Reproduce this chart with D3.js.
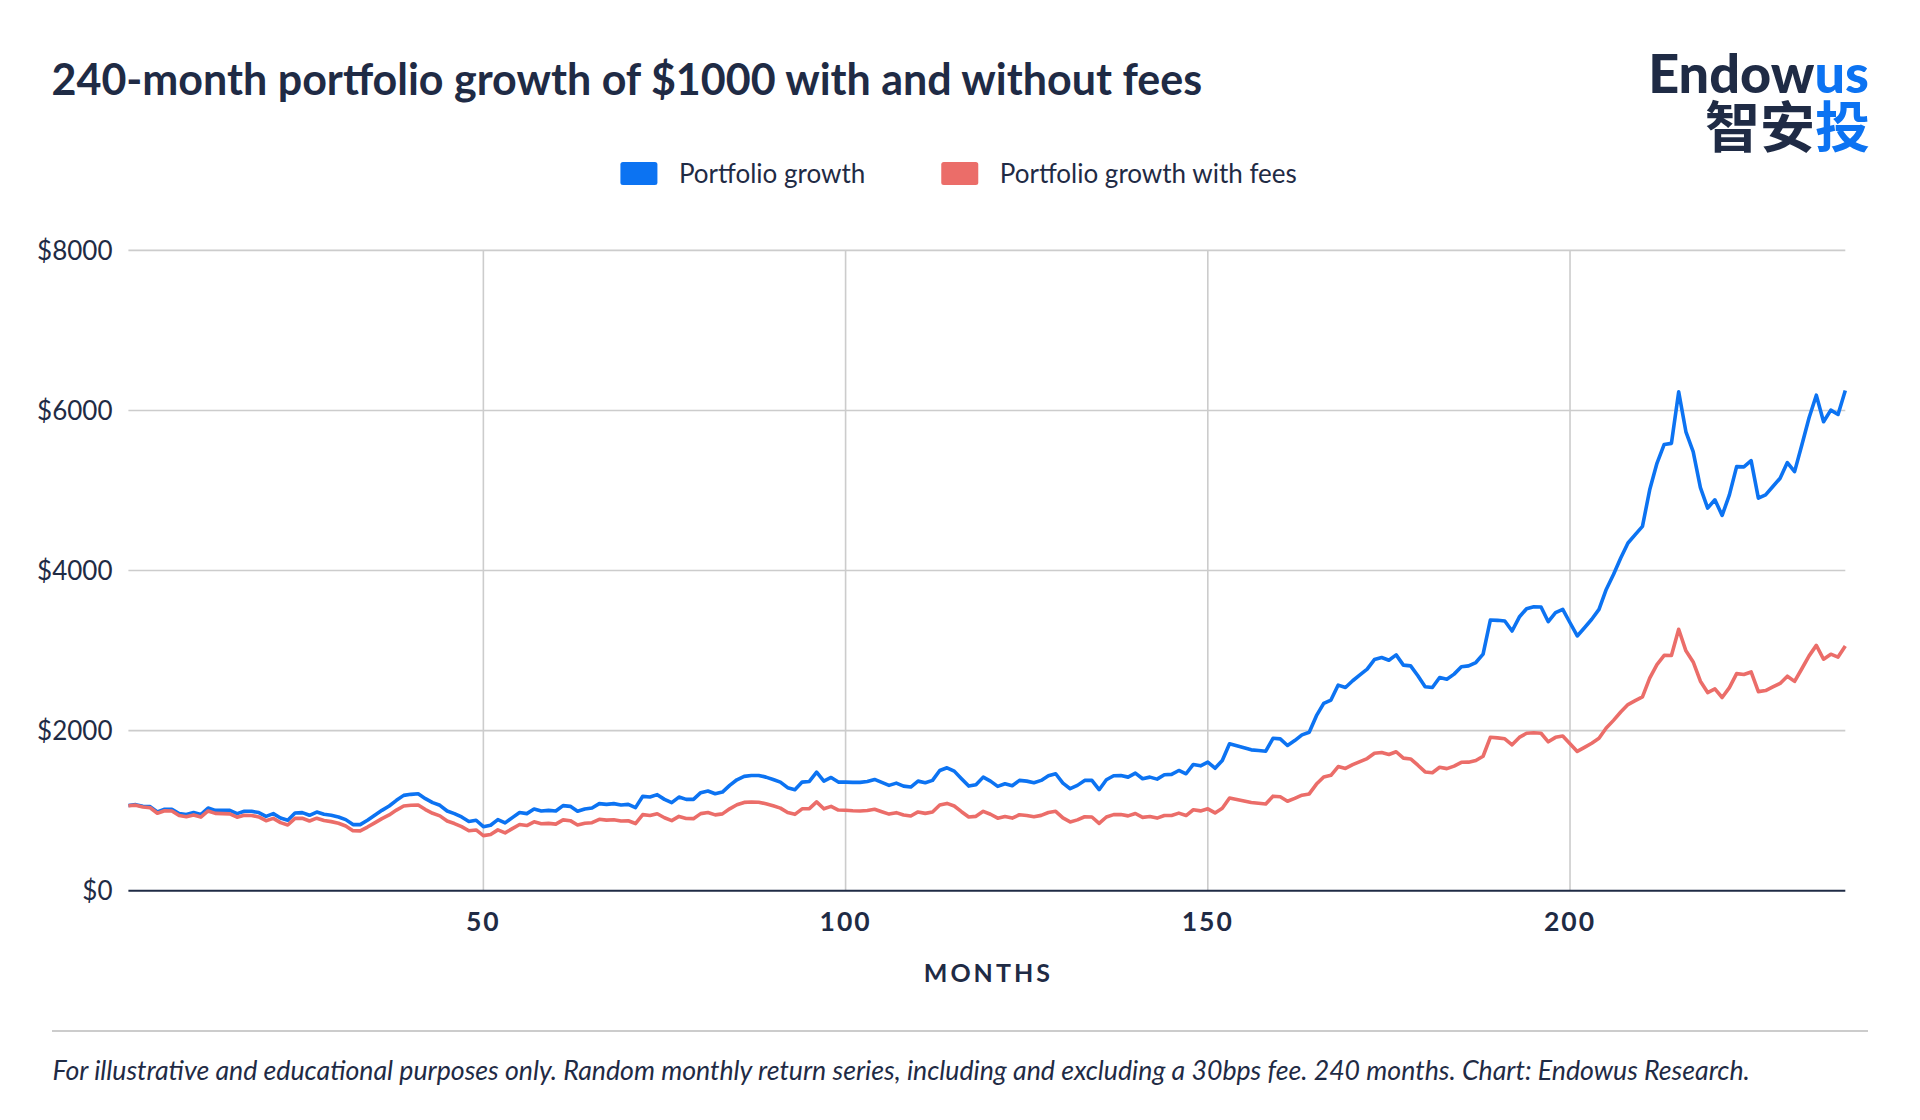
<!DOCTYPE html>
<html>
<head>
<meta charset="utf-8">
<script src="https://cdn.jsdelivr.net/npm/d3@7"></script>
<style>
    html, body { margin: 0; padding: 0; background: #ffffff; }
    svg { display: block; font-family: Lato, "Noto Sans", sans-serif; }
</style>
</head>
<body>
<svg id="chart" width="1920" height="1120"></svg>
<script>
// Values, one per month
const portfolioGrowth = [
    1065, 1075, 1055, 1050, 983, 1017, 1017, 963, 951, 976,
    951, 1033, 1004, 1004, 1004, 963, 992, 992, 976, 929,
    963, 909, 880, 971, 976, 942, 983, 955, 942, 921,
    888, 826, 826, 880, 942, 1004, 1058, 1129, 1191, 1204,
    1212, 1150, 1100, 1067, 996, 963, 921, 865, 880, 800,
    818, 888, 847, 913, 976, 963, 1021, 996, 1004, 996,
    1063, 1054, 992, 1021, 1033, 1088, 1079, 1088, 1071, 1079,
    1038, 1179, 1170, 1200, 1141, 1100, 1170, 1141, 1141, 1225,
    1245, 1212, 1232, 1316, 1386, 1428, 1440, 1440, 1419, 1390,
    1357, 1287, 1262, 1357, 1365, 1481, 1369, 1415, 1357, 1357,
    1353, 1353, 1365, 1390, 1353, 1316, 1344, 1307, 1295, 1369,
    1349, 1378, 1502, 1536, 1494, 1399, 1307, 1324, 1419, 1369,
    1303, 1336, 1312, 1378, 1369, 1349, 1378, 1436, 1461, 1344,
    1274, 1316, 1378, 1378, 1262, 1386, 1436, 1440, 1419, 1469,
    1399, 1419, 1394, 1449, 1453, 1502, 1461, 1577, 1560, 1606,
    1530, 1627, 1835, 1810, 1785, 1760, 1751, 1743, 1904, 1897,
    1814, 1876, 1947, 1979, 2187, 2340, 2382, 2569, 2539, 2623,
    2697, 2768, 2888, 2913, 2880, 2946, 2818, 2809, 2685, 2548,
    2539, 2664, 2643, 2706, 2797, 2809, 2851, 2955, 3382, 3378,
    3369, 3245, 3419, 3523, 3547, 3544, 3361, 3473, 3515, 3348,
    3183, 3286, 3391, 3515, 3764, 3951, 4157, 4344, 4449, 4552,
    5009, 5340, 5576, 5589, 6232, 5734, 5485, 5037, 4780, 4884,
    4689, 4946, 5299, 5295, 5373, 4904, 4946, 5050, 5153, 5349,
    5236, 5569, 5909, 6191, 5859, 6004, 5950, 6250
];

const portfolioGrowthWithFees = [
    1062, 1069, 1045, 1037, 968, 999, 996, 940, 925, 947,
    920, 996, 966, 963, 960, 918, 943, 940, 922, 875,
    904, 851, 821, 904, 905, 871, 906, 878, 863, 842,
    809, 750, 748, 795, 848, 901, 947, 1007, 1059, 1068,
    1071, 1014, 967, 935, 870, 839, 800, 749, 759, 688,
    702, 760, 722, 776, 827, 814, 860, 837, 841, 832,
    885, 875, 821, 842, 850, 892, 882, 887, 870, 874,
    839, 950, 940, 961, 911, 875, 928, 903, 900, 963,
    976, 947, 960, 1023, 1074, 1103, 1109, 1105, 1086, 1061,
    1032, 976, 954, 1023, 1026, 1110, 1023, 1054, 1008, 1005,
    999, 996, 1002, 1017, 987, 957, 975, 945, 933, 984,
    966, 984, 1070, 1091, 1058, 987, 920, 929, 992, 955,
    906, 926, 907, 949, 940, 924, 941, 977, 992, 909,
    859, 885, 924, 921, 841, 921, 951, 951, 935, 965,
    916, 926, 907, 940, 940, 969, 939, 1011, 997, 1023,
    972, 1031, 1159, 1140, 1120, 1101, 1092, 1084, 1181, 1173,
    1118, 1153, 1193, 1209, 1332, 1421, 1442, 1551, 1528, 1574,
    1613, 1651, 1717, 1727, 1702, 1736, 1656, 1646, 1568, 1484,
    1474, 1542, 1525, 1557, 1604, 1606, 1626, 1680, 1917, 1909,
    1898, 1823, 1915, 1967, 1974, 1967, 1860, 1916, 1933, 1836,
    1740, 1791, 1843, 1904, 2033, 2128, 2232, 2325, 2374, 2422,
    2657, 2824, 2940, 2938, 3267, 2997, 2858, 2617, 2476, 2522,
    2414, 2538, 2712, 2701, 2733, 2487, 2501, 2546, 2590, 2680,
    2615, 2773, 2934, 3065, 2892, 2955, 2919, 3058
];

const seriesNames = ["Portfolio growth", "Portfolio growth with fees"];
const seriesColors = ["#0c73f2", "#eb6d69"];
const yTicks = [0, 2000, 4000, 6000, 8000];
const xTicks = [50, 100, 150, 200];

const navy = "#1f2b45";

const svg = d3.select("#chart");

const margin = { top: 250.4, right: 74.7, bottom: 229.3, left: 128.4 };
const width = 1920 - margin.left - margin.right;
const height = 1120 - margin.top - margin.bottom;

const xScale = d3.scaleLinear()
    .domain([1, portfolioGrowth.length])
    .range([margin.left, margin.left + width]);

const yScale = d3.scaleLinear()
    .domain([0, 8000])
    .range([margin.top + height, margin.top]);

// Title
svg.append("text")
    .attr("x", 51.5)
    .attr("y", 95)
    .attr("font-size", 43)
    .attr("font-weight", 700)
    .attr("fill", navy)
    .text("240-month portfolio growth of $1000 with and without fees");

// Logo
const logo = svg.append("g").attr("text-anchor", "end");
const logoTop = logo.append("text")
    .attr("x", 1869)
    .attr("y", 92.5)
    .attr("font-size", 54)
    .attr("font-weight", 900)
    .attr("fill", navy);
logoTop.append("tspan").text("Endow");
logoTop.append("tspan").attr("fill", seriesColors[0]).text("us");

const logoBottom = logo.append("text")
    .attr("x", 1870)
    .attr("y", 146.5)
    .attr("font-size", 55)
    .attr("font-weight", 700)
    .attr("font-family", "'Noto Sans CJK SC', sans-serif")
    .attr("fill", navy);
logoBottom.append("tspan").text("智安");
logoBottom.append("tspan").attr("fill", seriesColors[0]).text("投");

// Legend
const legend = svg.append("g");
const legendItem = legend.selectAll(".legend-item")
    .data(seriesNames)
    .join("g")
    .attr("class", "legend-item");

legendItem.append("rect")
    .attr("width", 37)
    .attr("height", 23)
    .attr("rx", 2.5)
    .attr("y", -11.5)
    .attr("fill", (d, i) => seriesColors[i]);

legendItem.append("text")
    .attr("x", 58.5)
    .attr("y", 9.2)
    .attr("font-size", 26)
    .attr("fill", navy)
    .text(d => d);

let legendX = 0;
legendItem.each(function() {
    d3.select(this).attr("transform", `translate(${legendX}, 0)`);
    legendX += 58.5 + d3.select(this).select("text").node().getComputedTextLength() + 76;
});
const legendWidth = legendX - 76;
legend.attr("transform", `translate(${958.6 - legendWidth / 2}, 173.4)`);

// Horizontal gridlines
svg.append("g")
    .selectAll("line")
    .data(yTicks.filter(d => d > 0))
    .join("line")
    .attr("x1", margin.left)
    .attr("x2", margin.left + width)
    .attr("y1", d => yScale(d))
    .attr("y2", d => yScale(d))
    .attr("stroke", "#cccccc")
    .attr("stroke-width", 1.6);

// Vertical gridlines
svg.append("g")
    .selectAll("line")
    .data(xTicks)
    .join("line")
    .attr("x1", d => xScale(d))
    .attr("x2", d => xScale(d))
    .attr("y1", margin.top)
    .attr("y2", margin.top + height)
    .attr("stroke", "#cccccc")
    .attr("stroke-width", 1.6);

// Y labels
svg.append("g")
    .selectAll("text")
    .data(yTicks)
    .join("text")
    .attr("x", 112.5)
    .attr("y", d => yScale(d))
    .attr("dy", "0.35em")
    .attr("text-anchor", "end")
    .attr("font-size", 26)
    .attr("fill", navy)
    .text(d => `$${d}`);

// Lines
const line = d3.line()
    .x((d, i) => xScale(i + 1))
    .y(d => yScale(d));

svg.append("g")
    .selectAll("path")
    .data([portfolioGrowth, portfolioGrowthWithFees])
    .join("path")
    .attr("d", line)
    .attr("fill", "none")
    .attr("stroke", (d, i) => seriesColors[i])
    .attr("stroke-width", 3.6)
    .attr("stroke-linejoin", "round");

// Baseline
svg.append("line")
    .attr("x1", margin.left)
    .attr("x2", margin.left + width)
    .attr("y1", yScale(0))
    .attr("y2", yScale(0))
    .attr("stroke", navy)
    .attr("stroke-width", 2);

// X labels
svg.append("g")
    .selectAll("text")
    .data(xTicks)
    .join("text")
    .attr("x", d => xScale(d))
    .attr("y", 931)
    .attr("text-anchor", "middle")
    .attr("font-size", 26.5)
    .attr("font-weight", 700)
    .attr("letter-spacing", 2)
    .attr("fill", navy)
    .text(d => d);

svg.append("text")
    .attr("x", margin.left + width / 2 + 1.5)
    .attr("y", 982)
    .attr("text-anchor", "middle")
    .attr("font-size", 25)
    .attr("font-weight", 700)
    .attr("letter-spacing", 3)
    .attr("fill", navy)
    .text("MONTHS");

// Footer
svg.append("line")
    .attr("x1", 52)
    .attr("x2", 1868)
    .attr("y1", 1031)
    .attr("y2", 1031)
    .attr("stroke", "#cccccc")
    .attr("stroke-width", 2);

svg.append("text")
    .attr("x", 52.5)
    .attr("y", 1079.5)
    .attr("font-size", 26.7)
    .attr("font-style", "italic")
    .attr("fill", navy)
    .text("For illustrative and educational purposes only. Random monthly return series, including and excluding a 30bps fee. 240 months. Chart: Endowus Research.");
</script>
</body>
</html>
